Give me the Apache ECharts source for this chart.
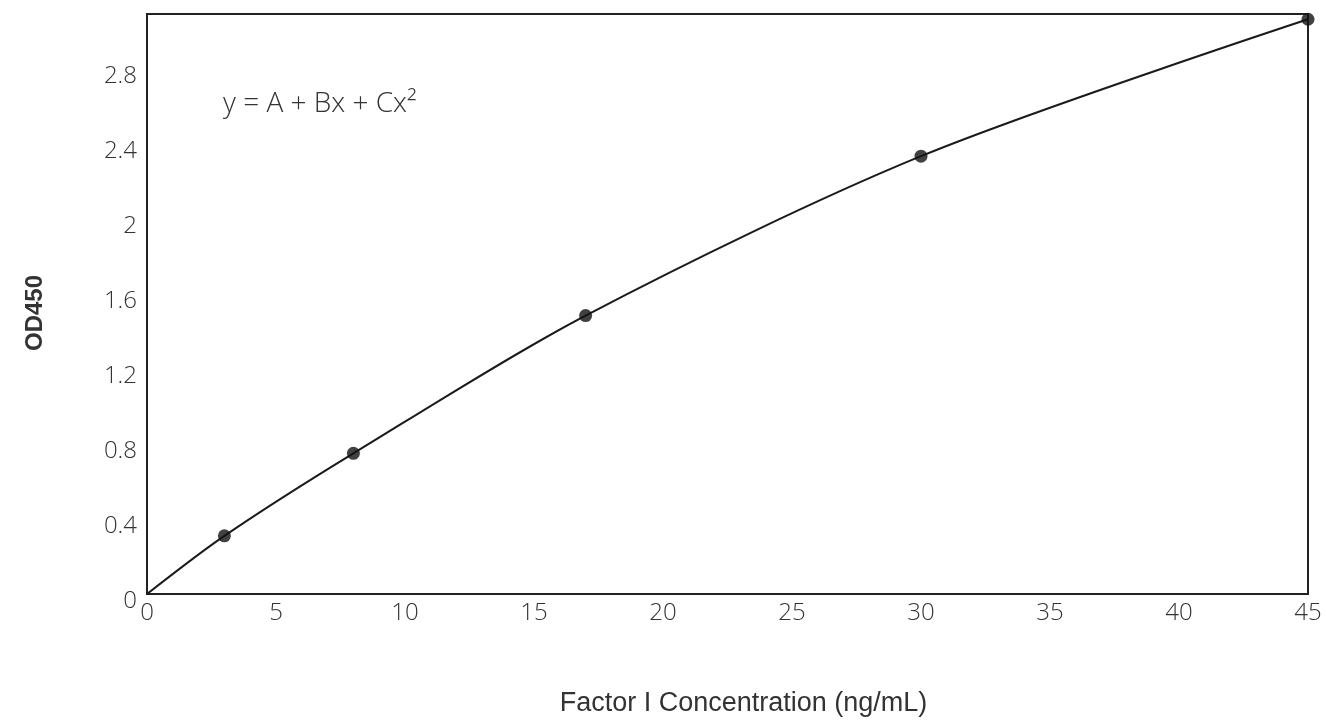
<!DOCTYPE html>
<html><head><meta charset="utf-8">
<script src="https://cdn.jsdelivr.net/npm/echarts@6/dist/echarts.min.js"></script>
<style>html,body{margin:0;padding:0;background:#fff}#c{width:1326px;height:722px}</style>
</head><body><div id="c"></div>
<script>
const concentrations = [0, 3, 8, 17, 30, 45];
const odValues = [0, 0.31, 0.75, 1.485, 2.335, 3.065];
const pointX = [3, 8, 17, 30, 45];
const pointY = [0.31, 0.75, 1.485, 2.335, 3.065];
const xTitle = 'Factor I Concentration (ng/mL)';
const yTitle = 'OD450';
const equation = 'y = A + Bx + Cx²';

const chart = echarts.init(document.getElementById('c'));
const lblFont = {fontFamily: 'Open Sans', fontSize: 24, color: '#333', fontWeight: 300};
chart.setOption({
  animation: false,
  backgroundColor: '#fff',
  title: {
    text: equation, left: 218, top: 85,
    textStyle: {fontFamily: 'Open Sans', fontSize: 28, fontWeight: 300, color: '#333'}
  },
  grid: {left: 147, right: 18, top: 14, bottom: 128, show: true, borderColor: '#222', borderWidth: 2, backgroundColor: 'transparent'},
  xAxis: {
    type: 'value', min: 0, max: 45, interval: 5,
    name: xTitle, nameLocation: 'middle', nameGap: 96,
    nameTextStyle: {fontFamily: 'Liberation Sans', fontSize: 27, color: '#333', padding: [0, 0, 0, 32]},
    axisLine: {show: true, lineStyle: {color: '#222', width: 2}},
    axisTick: {show: false}, splitLine: {show: false},
    axisLabel: Object.assign({margin: 7}, lblFont)
  },
  yAxis: {
    type: 'value', min: 0, max: 3.093, interval: 0.4,
    name: yTitle, nameLocation: 'middle', nameGap: 100,
    nameTextStyle: {fontFamily: 'Liberation Sans', fontSize: 24, fontWeight: 'bold', color: '#333', padding: [0, 18, 0, 0]},
    axisLine: {show: true, lineStyle: {color: '#222', width: 2}},
    axisTick: {show: false}, splitLine: {show: false},
    axisLabel: Object.assign({margin: 10, verticalAlign: 'top', lineHeight: 14, showMaxLabel: false, formatter: v => String(+v.toFixed(1))}, lblFont)
  },
  series: [
    {
      type: 'line', smooth: 0.3, symbol: 'none',
      data: concentrations.map((x, i) => [x, odValues[i]]),
      lineStyle: {color: '#1a1a1a', width: 2}
    },
    {
      type: 'scatter', symbolSize: 13,
      data: pointX.map((x, i) => [x, pointY[i]]),
      itemStyle: {color: '#111'}, z: 5
    }
  ]
});
</script></body></html>
